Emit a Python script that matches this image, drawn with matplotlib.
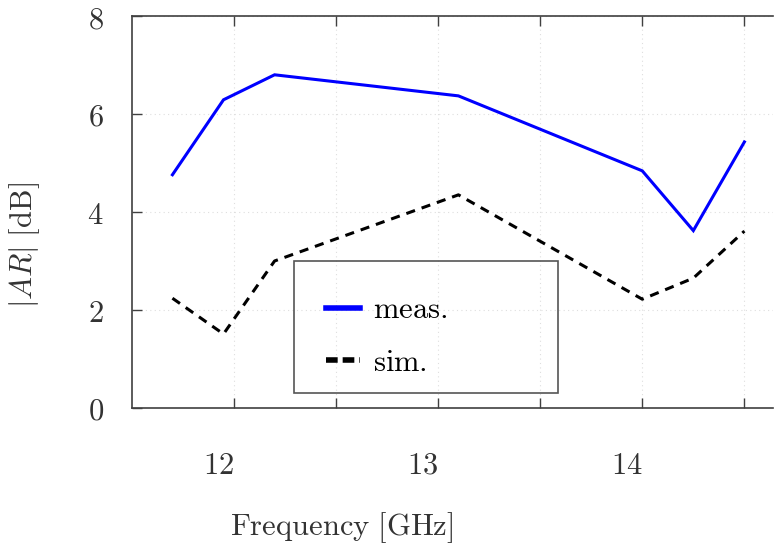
import matplotlib
matplotlib.use('Agg')
import matplotlib.pyplot as plt
from matplotlib.lines import Line2D
from matplotlib.patches import Rectangle
import matplotlib.transforms as mtransforms

plt.rcParams['mathtext.fontset'] = 'cm'
plt.rcParams['font.family'] = ['DejaVu Serif']

# frequency points [GHz]
freq = [11.7, 11.95, 12.2, 13.1, 14.0, 14.25, 14.5]
meas = [4.76, 6.29, 6.80, 6.37, 4.84, 3.62, 5.43]
sim = [2.24, 1.51, 3.00, 4.35, 2.22, 2.65, 3.61]

xticks = [12, 12.5, 13, 13.5, 14, 14.5]
xticklabels = ['$12$', '', '$13$', '', '$14$', '']
yticks = [0, 2, 4, 6, 8]
yticklabels = ['$0$', '$2$', '$4$', '$6$', '$8$']

fs = 22
grey = '#404040'

fig = plt.figure(figsize=(7.74, 5.48), dpi=100)
ax = fig.add_axes([0.170, 0.2555, 0.8287, 0.7153])

ax.plot(freq, meas, color='#0000ff', lw=2.2, solid_joinstyle='miter')
ax.plot(freq, sim, color='black', lw=2.2, dashes=(3, 2.3))

ax.set_xlim(11.5, 14.64)
ax.set_ylim(0, 8)
ax.set_xticks(xticks)
ax.set_xticklabels(xticklabels)
ax.set_yticks(yticks)
ax.set_yticklabels(yticklabels)

ax.grid(True, color='#dedede', linestyle=(0, (1, 3)), lw=0.8)
ax.tick_params(direction='in', length=7, width=1, colors=grey,
               labelsize=fs, top=True)
ax.tick_params(axis='x', pad=30, labelcolor='#333333')
ax.tick_params(axis='y', pad=20, labelcolor='#333333')

# shift x tick labels a bit left like the reference
off = mtransforms.ScaledTranslation(-15 / 100, 0, fig.dpi_scale_trans)
for lab in ax.get_xticklabels():
    lab.set_transform(lab.get_transform() + off)

ax.spines['right'].set_visible(False)
for s in ['left', 'bottom', 'top']:
    ax.spines[s].set_color(grey)
    ax.spines[s].set_linewidth(1.2)

ax.set_xlabel(r'$\mathrm{Frequency\ [GHz]}$', fontsize=fs, color='#333333')
ax.xaxis.set_label_coords(0.328, -0.26)
ax.set_ylabel(r'$|AR|\ [\mathrm{dB}]$', fontsize=fs, color='#333333')
ax.yaxis.set_label_coords(-0.14, 0.416)

# legend box
ax.add_patch(Rectangle((0.253, 0.038), 0.412, 0.337, transform=ax.transAxes,
                       fill=False, ec='#555555', lw=1.2, zorder=5))
handles = [Line2D([], [], color='#0000ff', lw=4),
           Line2D([], [], color='black', lw=4, dashes=(2.1, 0.9))]
ax.legend(handles, [r'$\mathrm{meas.}$', r'$\mathrm{sim.}$'],
          loc='upper left', bbox_to_anchor=(0.303, 0.29), frameon=False,
          borderpad=0, borderaxespad=0, handlelength=1.1,
          handletextpad=0.43, labelspacing=0.7, fontsize=fs)

fig.savefig('out.png', dpi=100)
